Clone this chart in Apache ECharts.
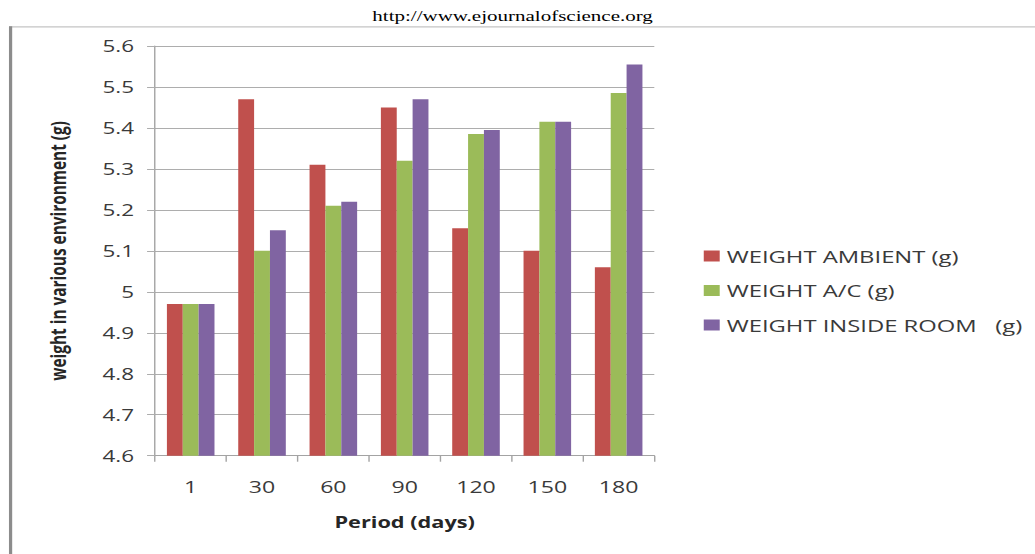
<!DOCTYPE html>
<html>
<head>
<meta charset="utf-8">
<script src="https://cdn.jsdelivr.net/npm/echarts@6/dist/echarts.min.js"></script>
<style>
  html, body { margin: 0; padding: 0; background: #ffffff; overflow: hidden; }
  #wrap { width: 1035px; height: 554px; overflow: hidden; }
  #chart { width: 739px; height: 554px; transform: scaleX(1.4005); transform-origin: 0 0; }
</style>
</head>
<body>
<div id="wrap"><div id="chart"></div></div>
<script>
// ---- data ----
const categories = ['1', '30', '60', '90', '120', '150', '180'];
const seriesNames = ['WEIGHT AMBIENT (g)', 'WEIGHT A/C (g)', 'WEIGHT INSIDE ROOM   (g)'];
const ambient = [4.97, 5.47, 5.31, 5.45, 5.155, 5.10, 5.06];
const ac      = [4.97, 5.10, 5.21, 5.32, 5.385, 5.415, 5.485];
const inside  = [4.97, 5.15, 5.22, 5.47, 5.395, 5.415, 5.555];
const yMin = 4.6, yMax = 5.6, yStep = 0.1;
const headerText = 'http://www.ejournalofscience.org';
const xTitle = 'Period (days)';
const yTitle = 'weight in various environment (g)';

const colors = ['#C0504D', '#9BBB59', '#8064A2'];
const values = [ambient, ac, inside];

const chart = echarts.init(document.getElementById('chart'), null, { renderer: 'svg', width: 739, height: 554 });

chart.setOption({
  animation: false,
  backgroundColor: '#ffffff',
  title: {
    text: headerText,
    left: 361, top: 4, textAlign: 'center',
    textStyle: { fontFamily: 'Liberation Serif', fontSize: 15, fontWeight: 'normal', color: '#000000' }
  },
  graphic: [
    { type: 'rect', shape: { x: 6.4, y: 26.2, width: 740, height: 1.3 }, style: { fill: '#c4c4c4' }, silent: true },
    { type: 'rect', shape: { x: 6.4, y: 26.2, width: 2.3, height: 540 }, style: { fill: '#8c8c8c' }, silent: true }
  ],
  legend: {
    orient: 'vertical',
    left: 497.5, top: 242.5,
    itemWidth: 11.4, itemHeight: 11, itemGap: 17.5,
    icon: 'rect',
    data: seriesNames,
    textStyle: { fontFamily: 'Open Sans', fontSize: 17, color: '#3a3a3a' }
  },
  grid: { left: 110.7, right: 271.8, top: 46, bottom: 98.3, containLabel: false },
  xAxis: {
    type: 'category',
    data: categories,
    boundaryGap: true,
    name: xTitle,
    nameLocation: 'middle',
    nameGap: 59,
    nameTextStyle: { fontFamily: 'Open Sans', fontSize: 15.5, fontWeight: 'bold', color: '#262626' },
    axisLine: { show: true, lineStyle: { color: '#a3a3a3', width: 1 } },
    axisTick: { show: true, length: 6, lineStyle: { color: '#a3a3a3' } },
    axisLabel: { margin: 23, fontFamily: 'Open Sans', fontSize: 16.5, color: '#3a3a3a' },
    splitLine: { show: false }
  },
  yAxis: {
    type: 'value',
    min: yMin, max: yMax, interval: yStep,
    name: yTitle,
    nameLocation: 'middle',
    nameRotate: 90,
    nameGap: 62,
    nameTextStyle: { fontFamily: 'Open Sans', fontSize: 15.4, fontWeight: 'bold', color: '#262626' },
    axisLine: { show: true, lineStyle: { color: '#a3a3a3', width: 1 } },
    axisTick: { show: true, length: 5.7, lineStyle: { color: '#adadad' } },
    axisLabel: {
      margin: 15, fontFamily: 'Open Sans', fontSize: 16, color: '#3a3a3a',
      formatter: v => String(+v.toFixed(1))
    },
    splitLine: { show: true, lineStyle: { color: '#adadad', width: 1 } }
  },
  series: seriesNames.map((n, i) => ({
    name: n,
    type: 'bar',
    data: values[i],
    barGap: '0%',
    barCategoryGap: '33.3%',
    itemStyle: { color: colors[i] }
  }))
});
</script>
</body>
</html>
